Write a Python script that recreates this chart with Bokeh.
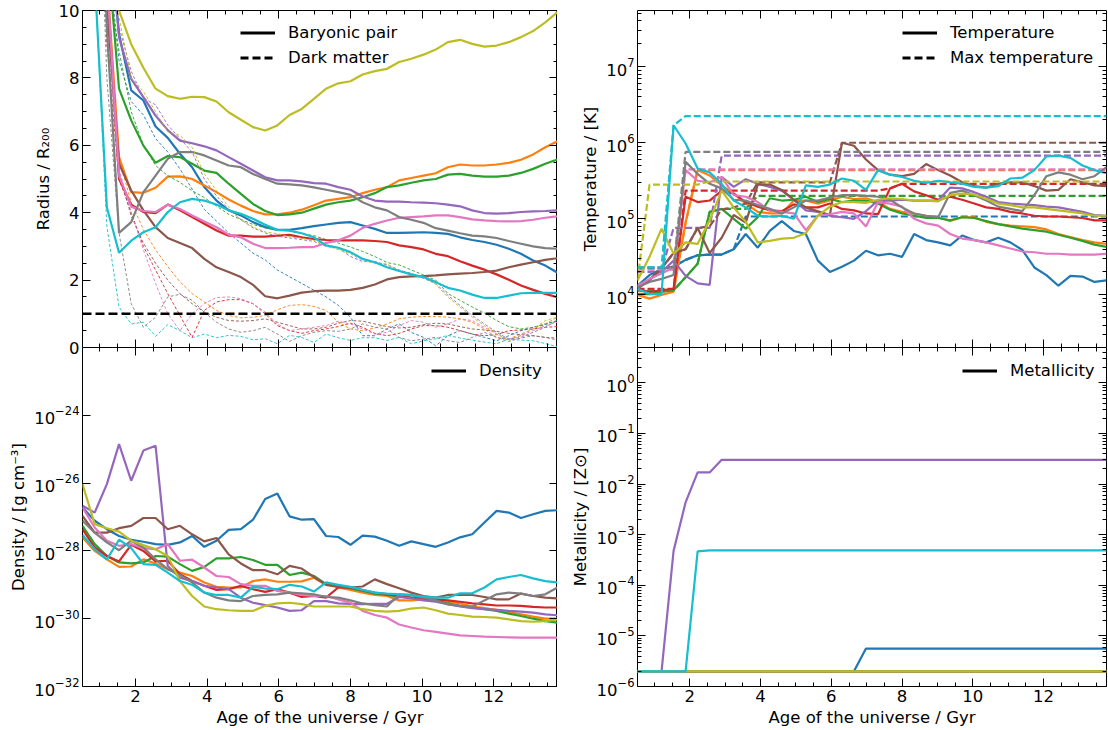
from bokeh.plotting import figure
from bokeh.models import (Range1d, LinearAxis, LogAxis, SingleIntervalTicker, FixedTicker,
                          LogTickFormatter, Legend, LegendItem, Span)
from bokeh.layouts import column, row
from bokeh.embed import file_html
from bokeh.resources import INLINE

# ---------------------------------------------------------------- data
TIME_GYR = [0.52, 0.86, 1.20, 1.54, 1.88, 2.22, 2.56, 2.90, 3.24, 3.58,
            3.92, 4.26, 4.60, 4.94, 5.28, 5.62, 5.96, 6.30, 6.64, 6.98,
            7.32, 7.66, 8.00, 8.34, 8.68, 9.02, 9.36, 9.70, 10.04, 10.38,
            10.72, 11.06, 11.40, 11.74, 12.08, 12.42, 12.76, 13.10, 13.44, 13.78]

SERIES_COLORS = ["#1f77b4", "#ff7f0e", "#2ca02c", "#d62728", "#9467bd",
                 "#8c564b", "#e377c2", "#7f7f7f", "#bcbd22", "#17becf"]

# Radius of baryonic pair / R200
RAD_BAR_BLUE = [40, 22, 13, 9.3, 7.63, 7.33, 6.56, 6.22, 5.75, 5.35,
                4.76, 4.36, 4.07, 3.92, 3.72, 3.57, 3.49, 3.49, 3.54, 3.6,
                3.65, 3.7, 3.72, 3.62, 3.52, 3.4, 3.4, 3.41, 3.42, 3.4,
                3.37, 3.27, 3.19, 3.13, 3.05, 2.93, 2.78, 2.58, 2.43, 2.22]
RAD_BAR_ORANGE = [40, 20, 11, 5.65, 4.61, 4.59, 4.74, 5.07, 5.08, 5.0,
                  4.81, 4.61, 4.39, 4.21, 4.05, 3.95, 3.95, 4.0, 4.09, 4.22,
                  4.36, 4.41, 4.46, 4.58, 4.68, 4.76, 4.96, 5.03, 5.1, 5.17,
                  5.35, 5.43, 5.4, 5.4, 5.43, 5.48, 5.57, 5.73, 5.94, 6.12]
RAD_BAR_GREEN = [40, 16, 12, 7.68, 6.74, 5.99, 5.48, 5.68, 5.65, 5.45,
                 5.25, 5.18, 4.86, 4.56, 4.26, 4.05, 3.93, 3.95, 4.0, 4.12,
                 4.24, 4.31, 4.36, 4.46, 4.58, 4.76, 4.81, 4.89, 4.96, 5.0,
                 5.13, 5.15, 5.1, 5.07, 5.07, 5.1, 5.18, 5.3, 5.45, 5.58]
RAD_BAR_RED = [40, 18, 10.8, 5.0, 4.24, 4.02, 3.99, 4.24, 4.07, 3.87,
               3.67, 3.47, 3.32, 3.32, 3.29, 3.29, 3.32, 3.34, 3.27, 3.22,
               3.19, 3.18, 3.18, 3.18, 3.16, 3.13, 3.03, 2.98, 2.91, 2.78,
               2.71, 2.56, 2.43, 2.31, 2.17, 2.01, 1.84, 1.71, 1.59, 1.49]
RAD_BAR_PURPLE = [40, 22, 13.5, 9.2, 7.97, 7.43, 6.88, 6.45, 6.14, 6.06,
                  5.97, 5.85, 5.65, 5.45, 5.25, 5.05, 4.96, 4.96, 4.93, 4.88,
                  4.86, 4.76, 4.68, 4.48, 4.36, 4.33, 4.33, 4.31, 4.3, 4.28,
                  4.24, 4.19, 4.07, 3.99, 3.97, 3.99, 4.02, 4.04, 4.05, 4.07]
RAD_BAR_BROWN = [40, 17, 10.2, 5.45, 4.66, 4.07, 3.57, 3.25, 3.1, 2.95,
                 2.63, 2.38, 2.24, 2.09, 1.86, 1.52, 1.46, 1.54, 1.63, 1.67,
                 1.69, 1.69, 1.71, 1.77, 1.87, 2.02, 2.09, 2.11, 2.12, 2.14,
                 2.17, 2.19, 2.21, 2.24, 2.28, 2.38, 2.46, 2.53, 2.6, 2.65]
RAD_BAR_PINK = [40, 18, 11, 5.1, 4.18, 4.05, 4.02, 4.24, 4.11, 3.92,
                3.74, 3.57, 3.35, 3.27, 3.08, 2.95, 2.95, 2.96, 2.98, 2.98,
                3.1, 3.18, 3.32, 3.55, 3.67, 3.77, 3.85, 3.87, 3.89, 3.92,
                3.92, 3.87, 3.8, 3.77, 3.75, 3.74, 3.75, 3.79, 3.85, 3.89]
RAD_BAR_GRAY = [40, 20, 9.5, 3.4, 3.72, 4.61, 5.1, 5.6, 5.8, 5.8,
                5.7, 5.55, 5.4, 5.35, 5.15, 5.0, 4.86, 4.84, 4.81, 4.75,
                4.68, 4.61, 4.53, 4.31, 4.16, 4.07, 3.87, 3.79, 3.7, 3.54,
                3.47, 3.39, 3.32, 3.3, 3.25, 3.16, 3.08, 3.0, 2.95, 2.93]
RAD_BAR_OLIVE = [40, 16, 11.2, 10.0, 9.0, 8.3, 7.68, 7.46, 7.38, 7.44,
                 7.43, 7.3, 6.98, 6.76, 6.54, 6.44, 6.59, 6.9, 7.08, 7.38,
                 7.68, 7.84, 7.9, 8.1, 8.2, 8.27, 8.47, 8.57, 8.69, 8.84,
                 9.06, 9.13, 9.01, 8.93, 8.96, 9.06, 9.21, 9.39, 9.65, 9.95]
RAD_BAR_CYAN = [40, 11, 4.16, 2.81, 3.17, 3.42, 3.57, 4.02, 4.31, 4.41,
                4.36, 4.24, 4.07, 3.97, 3.82, 3.64, 3.49, 3.47, 3.39, 3.27,
                3.03, 2.96, 2.83, 2.63, 2.53, 2.38, 2.27, 2.17, 2.09, 1.94,
                1.77, 1.69, 1.57, 1.47, 1.47, 1.54, 1.61, 1.62, 1.62, 1.62]

# Radius of dark matter / R200
RAD_DM_BLUE = [40, 20, 12, 8.5, 7.3, 6.9, 6.2, 5.8, 5.3, 4.7,
               4.1, 3.75, 3.4, 3.1, 2.8, 2.6, 2.3, 2.1, 1.9, 1.7,
               1.5, 1.25, 0.9, 0.35, 0.35, 0.55, 0.7, 0.45, 0.3, 0.05,
               0.35, 0.5, 0.4, 0.3, 0.2, 0.35, 0.5, 0.6, 0.7, 0.8]
RAD_DM_ORANGE = [40, 18, 10, 5.6, 4.3, 3.5, 2.9, 2.4, 1.95, 1.6,
                 1.35, 1.1, 0.95, 0.88, 0.9, 0.95, 1.12, 1.25, 1.27, 1.22,
                 1.1, 0.75, 0.55, 0.5, 0.58, 0.7, 0.85, 0.9, 0.92, 0.92,
                 0.9, 0.85, 0.75, 0.55, 0.3, 0.25, 0.4, 0.55, 0.7, 0.9]
RAD_DM_GREEN = [40, 18, 11, 8.8, 7.0, 6.0, 5.4, 5.1, 4.9, 4.65,
                4.45, 4.2, 3.95, 3.8, 3.65, 3.55, 3.5, 3.45, 3.38, 3.32,
                3.2, 3.1, 2.98, 2.85, 2.7, 2.52, 2.45, 2.3, 2.15, 2.0,
                1.6, 1.4, 1.2, 1.02, 0.8, 0.62, 0.55, 0.6, 0.68, 0.8]
RAD_DM_RED = [40, 18, 9, 5.0, 4.0, 3.0, 2.3, 1.6, 0.95, 0.3,
              1.1, 1.35, 1.42, 1.42, 1.3, 1.0, 0.65, 0.5, 0.42, 0.5,
              0.55, 0.62, 0.72, 0.6, 0.42, 0.35, 0.42, 0.55, 0.65, 0.65,
              0.6, 0.5, 0.4, 0.35, 0.38, 0.5, 0.52, 0.55, 0.6, 0.62]
RAD_DM_PURPLE = [40, 20, 12, 9.5, 8.2, 7.4, 7.2, 6.6, 6.2, 5.8,
                 5.0, 4.5, 4.1, 3.8, 3.55, 3.4, 3.3, 3.25, 3.2, 3.15,
                 3.0, 2.95, 2.7, 2.55, 2.55, 2.45, 2.3, 2.2, 2.05, 1.9,
                 1.55, 1.25, 0.95, 0.7, 0.45, 0.25, 0.3, 0.45, 0.6, 0.8]
RAD_DM_BROWN = [40, 18, 10, 5.2, 3.9, 3.1, 2.5, 2.0, 1.6, 1.3,
                1.05, 0.9, 0.8, 0.78, 0.8, 0.85, 0.75, 0.65, 0.55, 0.55,
                0.6, 0.72, 0.8, 0.78, 0.7, 0.62, 0.58, 0.6, 0.68, 0.72,
                0.7, 0.62, 0.55, 0.52, 0.48, 0.42, 0.38, 0.35, 0.3, 0.28]
RAD_DM_PINK = [40, 18, 9.5, 5.3, 4.0, 2.9, 1.9, 1.0, 0.5, 1.0,
               1.3, 1.48, 1.5, 1.45, 1.3, 1.05, 0.7, 0.5, 0.55, 0.6,
               0.65, 0.78, 0.7, 0.55, 0.4, 0.45, 0.65, 0.8, 0.75, 0.6,
               0.7, 0.85, 0.8, 0.6, 0.4, 0.25, 0.35, 0.5, 0.65, 0.75]
RAD_DM_GRAY = [40, 18, 8, 3.4, 1.3, 0.6, 0.9, 1.5, 1.58, 1.4,
               1.05, 0.75, 0.55, 0.45, 0.5, 0.6, 0.4, 0.18, 0.35, 0.45,
               0.5, 0.48, 0.55, 0.7, 0.6, 0.55, 0.3, 0.2, 0.25, 0.3,
               0.2, 0.15, 0.3, 0.45, 0.3, 0.18, 0.28, 0.35, 0.3, 0.22]
RAD_DM_OLIVE = [40, 20, 12, 9.8, 8.0, 7.6, 7.0, 6.4, 6.3, 5.94,
                5.15, 4.66, 4.17, 3.78, 3.58, 3.43, 3.38, 3.28, 3.25, 3.18,
                3.03, 2.9, 2.78, 2.58, 2.5, 2.48, 2.28, 2.15, 2.08, 1.88,
                1.49, 1.2, 0.9, 0.65, 0.4, 0.2, 0.36, 0.55, 0.8, 0.9]
RAD_DM_CYAN = [40, 11, 3.6, 1.2, 0.7, 0.75, 0.33, 0.68, 0.5, 0.29,
               0.4, 0.29, 0.36, 0.33, 0.23, 0.26, 0.11, 0.36, 0.3, 0.15,
               0.4, 0.29, 0.21, 0.29, 0.29, 0.21, 0.3, 0.11, 0.2, 0.26,
               0.36, 0.28, 0.22, 0.16, 0.11, 0.25, 0.22, 0.2, 0.12, 0.02]

# log10 density [g cm^-3]
LOG_DENS_BLUE = [-26.72, -27.11, -27.36, -27.56, -27.67, -27.73, -27.8, -27.82, -27.75, -27.56,
                 -27.88, -27.7, -27.38, -27.36, -27.08, -26.47, -26.31, -26.98, -27.08, -27.06,
                 -27.56, -27.59, -27.82, -27.55, -27.58, -27.7, -27.85, -27.72, -27.8, -27.88,
                 -27.75, -27.6, -27.51, -27.16, -26.82, -26.87, -27.03, -26.92, -26.82, -26.8]
LOG_DENS_ORANGE = [-27.6, -28.0, -28.25, -28.47, -28.46, -28.25, -28.37, -28.54, -28.64, -28.74,
                   -28.93, -29.06, -29.08, -29.08, -28.89, -28.84, -28.91, -28.91, -28.9, -28.79,
                   -29.0, -29.08, -29.15, -29.23, -29.3, -29.33, -29.46, -29.46, -29.43, -29.46,
                   -29.5, -29.55, -29.64, -29.69, -29.74, -29.8, -29.87, -29.94, -30.0, -30.0]
LOG_DENS_GREEN = [-27.26, -27.8, -28.15, -28.34, -28.37, -28.34, -28.15, -28.17, -28.39, -28.59,
                  -28.47, -28.22, -28.22, -28.18, -28.27, -28.41, -28.41, -28.71, -28.64, -28.74,
                  -28.98, -29.05, -29.11, -29.18, -29.26, -29.3, -29.35, -29.38, -29.4, -29.46,
                  -29.55, -29.62, -29.67, -29.72, -29.77, -29.85, -29.92, -30.0, -30.07, -30.12]
LOG_DENS_RED = [-27.36, -27.9, -28.15, -28.31, -27.82, -28.0, -28.31, -28.29, -28.69, -28.89,
                -29.03, -29.15, -29.13, -29.03, -29.13, -29.21, -29.13, -29.23, -29.36, -29.33,
                -29.38, -29.08, -29.08, -29.16, -29.23, -29.28, -29.33, -29.38, -29.41, -29.43,
                -29.46, -29.5, -29.55, -29.58, -29.61, -29.61, -29.62, -29.65, -29.67, -29.67]
LOG_DENS_PURPLE = [-26.67, -26.87, -26.03, -24.85, -25.93, -25.04, -24.9, -28.45, -28.79, -28.89,
                   -29.03, -29.08, -29.13, -29.38, -29.53, -29.6, -29.67, -29.77, -29.75, -29.48,
                   -29.48, -29.55, -29.56, -29.57, -29.56, -29.56, -29.36, -29.4, -29.46, -29.5,
                   -29.57, -29.64, -29.69, -29.72, -29.74, -29.77, -29.79, -29.82, -29.87, -29.9]
LOG_DENS_BROWN = [-26.97, -27.46, -27.46, -27.33, -27.26, -27.03, -27.03, -27.36, -27.26, -27.51,
                  -27.72, -27.62, -28.1, -28.37, -28.57, -28.57, -28.69, -28.44, -28.52, -28.77,
                  -29.0, -29.05, -29.08, -29.05, -28.84, -28.98, -29.1, -29.23, -29.33, -29.38,
                  -29.3, -29.3, -29.3, -29.36, -29.43, -29.43, -29.26, -29.33, -29.38, -29.4]
LOG_DENS_PINK = [-26.72, -27.31, -27.7, -27.85, -27.8, -27.92, -27.95, -27.8, -28.29, -28.26,
                 -28.49, -28.74, -28.77, -28.98, -29.03, -29.03, -29.18, -29.23, -29.3, -29.33,
                 -29.33, -29.43, -29.53, -29.77, -29.89, -29.97, -30.17, -30.26, -30.34, -30.39,
                 -30.44, -30.49, -30.51, -30.53, -30.54, -30.55, -30.56, -30.56, -30.56, -30.56]
LOG_DENS_GRAY = [-27.11, -27.46, -27.75, -27.98, -27.7, -27.9, -28.25, -28.54, -28.71, -28.93,
                 -29.23, -29.38, -29.46, -29.48, -29.33, -29.3, -29.28, -29.23, -29.25, -29.28,
                 -29.36, -29.38, -29.46, -29.55, -29.6, -29.64, -29.28, -29.3, -29.38, -29.46,
                 -29.58, -29.62, -29.65, -29.46, -29.28, -29.23, -29.26, -29.33, -29.28, -29.08]
LOG_DENS_OLIVE = [-26.03, -27.21, -27.33, -27.43, -27.7, -27.83, -27.95, -28.15, -28.89, -29.33,
                  -29.64, -29.72, -29.75, -29.77, -29.77, -29.62, -29.55, -29.53, -29.57, -29.64,
                  -29.64, -29.64, -29.64, -29.72, -29.77, -29.79, -29.77, -29.7, -29.67, -29.75,
                  -29.85, -29.89, -29.94, -29.95, -29.97, -30.02, -30.07, -30.09, -30.07, -30.02]
LOG_DENS_CYAN = [-27.53, -27.95, -28.25, -27.67, -27.92, -28.39, -28.41, -28.64, -28.89, -29.0,
                 -29.23, -29.3, -29.3, -29.38, -29.06, -29.11, -29.13, -29.0, -29.05, -29.2,
                 -28.93, -29.0, -29.06, -29.15, -29.23, -29.26, -29.28, -29.31, -29.35, -29.38,
                 -29.38, -29.25, -29.25, -29.08, -28.84, -28.77, -28.71, -28.81, -28.89, -28.93]

# log10 temperature [K]
LOG_TEMP_BLUE = [4.12, 4.26, 4.34, 4.37, 4.46, 4.52, 4.53, 4.53, 4.6, 4.8,
                 4.62, 4.84, 4.97, 4.84, 4.8, 4.45, 4.3, 4.37, 4.45, 4.58,
                 4.52, 4.54, 4.5, 4.8, 4.72, 4.69, 4.65, 4.78, 4.72, 4.69,
                 4.75, 4.69, 4.59, 4.36, 4.26, 4.12, 4.25, 4.24, 4.17, 4.19]
LOG_TEMP_ORANGE = [4.0, 3.95, 4.0, 4.04, 4.95, 5.64, 5.57, 5.44, 5.33, 5.2,
                   5.09, 5.07, 5.07, 5.24, 5.24, 5.2, 5.24, 5.29, 5.26, 5.27,
                   5.22, 5.13, 5.09, 5.07, 5.04, 5.02, 4.97, 5.02, 5.02, 4.96,
                   4.93, 4.91, 4.9, 4.89, 4.86, 4.8, 4.76, 4.72, 4.69, 4.67]
LOG_TEMP_GREEN = [4.01, 4.01, 4.04, 4.06, 4.23, 4.41, 5.09, 5.13, 5.0, 4.87,
                  5.02, 5.27, 5.24, 5.25, 5.29, 5.22, 5.26, 5.22, 5.24, 5.24,
                  5.2, 5.12, 5.07, 5.04, 5.01, 5.01, 4.98, 5.02, 5.01, 4.97,
                  4.93, 4.9, 4.87, 4.85, 4.83, 4.79, 4.75, 4.71, 4.66, 4.63]
LOG_TEMP_RED = [4.07, 4.04, 4.06, 4.08, 5.29, 5.22, 5.24, 5.37, 5.33, 5.22,
                5.16, 5.11, 5.1, 5.19, 5.15, 5.15, 5.2, 5.13, 5.11, 5.07,
                5.06, 5.4, 5.46, 5.36, 5.31, 5.25, 5.29, 5.25, 5.2, 5.15,
                5.13, 5.09, 5.07, 5.04, 5.03, 5.03, 5.02, 5.01, 4.98, 4.98]
LOG_TEMP_PURPLE = [4.1, 4.2, 4.3, 4.45, 4.25, 4.15, 4.13, 5.55, 5.42, 5.52,
                   5.46, 5.42, 5.37, 5.25, 5.11, 5.09, 5.04, 5.02, 5.0, 5.1,
                   5.24, 5.24, 5.25, 5.24, 5.24, 5.24, 5.41, 5.4, 5.35, 5.29,
                   5.22, 5.2, 5.19, 5.18, 5.16, 5.15, 5.12, 5.09, 5.05, 5.04]
LOG_TEMP_BROWN = [4.08, 4.2, 4.35, 4.55, 4.6, 4.88, 4.55, 4.75, 5.05, 4.95,
                  5.45, 5.45, 5.38, 5.25, 5.15, 5.1, 5.05, 6.0, 5.96, 5.78,
                  5.64, 5.58, 5.56, 5.59, 5.72, 5.64, 5.57, 5.48, 5.43, 5.41,
                  5.46, 5.48, 5.48, 5.43, 5.37, 5.38, 5.52, 5.48, 5.44, 5.43]
LOG_TEMP_PINK = [4.12, 4.21, 4.28, 4.36, 5.64, 5.5, 5.48, 5.55, 5.31, 5.29,
                 5.22, 5.11, 5.09, 5.07, 4.85, 5.04, 5.06, 5.09, 5.07, 4.9,
                 5.22, 5.2, 5.16, 5.0, 4.94, 4.91, 4.8, 4.74, 4.72, 4.69,
                 4.65, 4.61, 4.57, 4.56, 4.54, 4.54, 4.53, 4.53, 4.53, 4.54]
LOG_TEMP_GRAY = [4.1, 4.17, 4.21, 4.26, 5.75, 5.59, 5.46, 5.4, 5.25, 5.24,
                 5.18, 5.13, 5.07, 5.15, 5.24, 5.24, 5.28, 5.31, 5.31, 5.3,
                 5.29, 5.25, 5.15, 5.07, 5.04, 5.02, 5.34, 5.37, 5.31, 5.24,
                 5.16, 5.13, 5.1, 5.31, 5.56, 5.61, 5.58, 5.52, 5.56, 5.68]
LOG_TEMP_OLIVE = [4.19, 4.5, 4.87, 4.54, 4.69, 4.67, 4.98, 5.37, 5.15, 4.96,
                  4.69, 4.71, 4.74, 4.75, 4.81, 5.04, 5.16, 5.22, 5.22, 5.21,
                  5.25, 5.27, 5.26, 5.24, 5.24, 5.23, 5.31, 5.33, 5.32, 5.26,
                  5.2, 5.18, 5.15, 5.15, 5.13, 5.11, 5.09, 5.07, 5.04, 5.04]
LOG_TEMP_CYAN = [4.08, 4.01, 4.01, 6.23, 5.99, 5.66, 5.61, 5.46, 5.24, 5.15,
                 5.04, 5.03, 5.04, 5.0, 5.44, 5.42, 5.45, 5.53, 5.5, 5.38,
                 5.64, 5.58, 5.55, 5.5, 5.47, 5.5, 5.48, 5.46, 5.42, 5.41,
                 5.43, 5.53, 5.54, 5.64, 5.82, 5.83, 5.8, 5.7, 5.64, 5.6]

# log10 max temperature [K]
LOG_TMAX_BLUE = [4.35, 4.35, 4.35, 4.37, 4.46, 4.52, 4.53, 4.53, 4.6, 5.03,
                 5.03, 5.03, 5.03, 5.03, 5.03, 5.03, 5.03, 5.03, 5.03, 5.03,
                 5.03, 5.03, 5.03, 5.03, 5.03, 5.03, 5.03, 5.03, 5.03, 5.03,
                 5.03, 5.03, 5.03, 5.03, 5.03, 5.03, 5.03, 5.03, 5.03, 5.03]
LOG_TMAX_ORANGE = [4.05, 4.05, 4.05, 4.05, 4.95, 5.64, 5.64, 5.64, 5.64, 5.64,
                   5.64, 5.64, 5.64, 5.64, 5.64, 5.64, 5.64, 5.64, 5.64, 5.64,
                   5.64, 5.64, 5.64, 5.64, 5.64, 5.64, 5.64, 5.64, 5.64, 5.64,
                   5.64, 5.64, 5.64, 5.64, 5.64, 5.64, 5.64, 5.64, 5.64, 5.64]
LOG_TMAX_GREEN = [4.06, 4.06, 4.06, 4.06, 4.23, 4.41, 5.09, 5.13, 5.13, 5.13,
                  5.3, 5.3, 5.3, 5.3, 5.3, 5.3, 5.3, 5.3, 5.3, 5.3,
                  5.3, 5.3, 5.3, 5.3, 5.3, 5.3, 5.3, 5.3, 5.3, 5.3,
                  5.3, 5.3, 5.3, 5.3, 5.3, 5.3, 5.3, 5.3, 5.3, 5.3]
LOG_TMAX_RED = [4.08, 4.08, 4.08, 4.08, 5.37, 5.37, 5.37, 5.37, 5.37, 5.37,
                5.37, 5.37, 5.37, 5.37, 5.37, 5.37, 5.37, 5.37, 5.37, 5.37,
                5.37, 5.4, 5.46, 5.46, 5.46, 5.46, 5.46, 5.46, 5.46, 5.46,
                5.46, 5.46, 5.46, 5.46, 5.46, 5.46, 5.46, 5.46, 5.46, 5.46]
LOG_TMAX_PURPLE = [4.3, 4.3, 4.32, 4.88, 4.88, 4.88, 4.88, 5.83, 5.83, 5.83,
                   5.83, 5.83, 5.83, 5.83, 5.83, 5.83, 5.83, 5.83, 5.83, 5.83,
                   5.83, 5.83, 5.83, 5.83, 5.83, 5.83, 5.83, 5.83, 5.83, 5.83,
                   5.83, 5.83, 5.83, 5.83, 5.83, 5.83, 5.83, 5.83, 5.83, 5.83]
LOG_TMAX_BROWN = [4.1, 4.2, 4.35, 4.55, 4.6, 4.88, 4.9, 5.12, 5.15, 5.2,
                  5.48, 5.48, 5.48, 5.48, 5.48, 5.48, 5.48, 6.0, 6.0, 6.0,
                  6.0, 6.0, 6.0, 6.0, 6.0, 6.0, 6.0, 6.0, 6.0, 6.0,
                  6.0, 6.0, 6.0, 6.0, 6.0, 6.0, 6.0, 6.0, 6.0, 6.0]
LOG_TMAX_PINK = [4.33, 4.33, 4.33, 4.33, 5.65, 5.65, 5.65, 5.65, 5.65, 5.65,
                 5.65, 5.65, 5.65, 5.65, 5.65, 5.65, 5.65, 5.65, 5.65, 5.65,
                 5.65, 5.65, 5.65, 5.65, 5.65, 5.65, 5.65, 5.65, 5.65, 5.65,
                 5.65, 5.65, 5.65, 5.65, 5.65, 5.65, 5.65, 5.65, 5.65, 5.65]
LOG_TMAX_GRAY = [4.36, 4.36, 4.36, 4.36, 5.88, 5.88, 5.88, 5.88, 5.88, 5.88,
                 5.88, 5.88, 5.88, 5.88, 5.88, 5.88, 5.88, 5.88, 5.88, 5.88,
                 5.88, 5.88, 5.88, 5.88, 5.88, 5.88, 5.88, 5.88, 5.88, 5.88,
                 5.88, 5.88, 5.88, 5.88, 5.88, 5.88, 5.88, 5.88, 5.88, 5.88]
LOG_TMAX_OLIVE = [4.19, 5.45, 5.45, 5.45, 5.45, 5.45, 5.49, 5.49, 5.49, 5.49,
                  5.49, 5.49, 5.49, 5.49, 5.49, 5.49, 5.49, 5.49, 5.49, 5.49,
                  5.49, 5.49, 5.49, 5.49, 5.49, 5.49, 5.49, 5.49, 5.49, 5.49,
                  5.49, 5.49, 5.49, 5.49, 5.49, 5.49, 5.49, 5.49, 5.49, 5.49]
LOG_TMAX_CYAN = [4.36, 4.36, 4.36, 6.23, 6.35, 6.35, 6.35, 6.35, 6.35, 6.35,
                 6.35, 6.35, 6.35, 6.35, 6.35, 6.35, 6.35, 6.35, 6.35, 6.35,
                 6.35, 6.35, 6.35, 6.35, 6.35, 6.35, 6.35, 6.35, 6.35, 6.35,
                 6.35, 6.35, 6.35, 6.35, 6.35, 6.35, 6.35, 6.35, 6.35, 6.35]

# log10 metallicity [Z_sun]
LOG_MET_BLUE = [-5.7, -5.7, -5.7, -5.7, -5.7, -5.7, -5.7, -5.7, -5.7, -5.7,
                -5.7, -5.7, -5.7, -5.7, -5.7, -5.7, -5.7, -5.7, -5.7, -5.25,
                -5.25, -5.25, -5.25, -5.25, -5.25, -5.25, -5.25, -5.25, -5.25, -5.25,
                -5.25, -5.25, -5.25, -5.25, -5.25, -5.25, -5.25, -5.25, -5.25, -5.25]
LOG_MET_PURPLE = [-5.7, -5.7, -5.7, -3.32, -2.36, -1.77, -1.77, -1.52, -1.52, -1.52,
                  -1.52, -1.52, -1.52, -1.52, -1.52, -1.52, -1.52, -1.52, -1.52, -1.52,
                  -1.52, -1.52, -1.52, -1.52, -1.52, -1.52, -1.52, -1.52, -1.52, -1.52,
                  -1.52, -1.52, -1.52, -1.52, -1.52, -1.52, -1.52, -1.52, -1.52, -1.52]
LOG_MET_CYAN = [-5.7, -5.7, -5.7, -5.7, -5.7, -3.33, -3.31, -3.31, -3.31, -3.31,
                -3.31, -3.31, -3.31, -3.31, -3.31, -3.31, -3.31, -3.31, -3.31, -3.31,
                -3.31, -3.31, -3.31, -3.31, -3.31, -3.31, -3.31, -3.31, -3.31, -3.31,
                -3.31, -3.31, -3.31, -3.31, -3.31, -3.31, -3.31, -3.31, -3.31, -3.31]
LOG_MET_FLOOR = [-5.7, -5.7, -5.7, -5.7, -5.7, -5.7, -5.7, -5.7, -5.7, -5.7,
                 -5.7, -5.7, -5.7, -5.7, -5.7, -5.7, -5.7, -5.7, -5.7, -5.7,
                 -5.7, -5.7, -5.7, -5.7, -5.7, -5.7, -5.7, -5.7, -5.7, -5.7,
                 -5.7, -5.7, -5.7, -5.7, -5.7, -5.7, -5.7, -5.7, -5.7, -5.7]

RAD_BAR = [RAD_BAR_BLUE, RAD_BAR_ORANGE, RAD_BAR_GREEN, RAD_BAR_RED, RAD_BAR_PURPLE,
           RAD_BAR_BROWN, RAD_BAR_PINK, RAD_BAR_GRAY, RAD_BAR_OLIVE, RAD_BAR_CYAN]
RAD_DM = [RAD_DM_BLUE, RAD_DM_ORANGE, RAD_DM_GREEN, RAD_DM_RED, RAD_DM_PURPLE,
          RAD_DM_BROWN, RAD_DM_PINK, RAD_DM_GRAY, RAD_DM_OLIVE, RAD_DM_CYAN]
LOG_DENS = [LOG_DENS_BLUE, LOG_DENS_ORANGE, LOG_DENS_GREEN, LOG_DENS_RED, LOG_DENS_PURPLE,
            LOG_DENS_BROWN, LOG_DENS_PINK, LOG_DENS_GRAY, LOG_DENS_OLIVE, LOG_DENS_CYAN]
LOG_TEMP = [LOG_TEMP_BLUE, LOG_TEMP_ORANGE, LOG_TEMP_GREEN, LOG_TEMP_RED, LOG_TEMP_PURPLE,
            LOG_TEMP_BROWN, LOG_TEMP_PINK, LOG_TEMP_GRAY, LOG_TEMP_OLIVE, LOG_TEMP_CYAN]
LOG_TMAX = [LOG_TMAX_BLUE, LOG_TMAX_ORANGE, LOG_TMAX_GREEN, LOG_TMAX_RED, LOG_TMAX_PURPLE,
            LOG_TMAX_BROWN, LOG_TMAX_PINK, LOG_TMAX_GRAY, LOG_TMAX_OLIVE, LOG_TMAX_CYAN]
LOG_MET = [LOG_MET_BLUE, LOG_MET_FLOOR, LOG_MET_FLOOR, LOG_MET_FLOOR, LOG_MET_PURPLE,
           LOG_MET_FLOOR, LOG_MET_FLOOR, LOG_MET_FLOOR, LOG_MET_FLOOR, LOG_MET_CYAN]

for group in (RAD_BAR, RAD_DM, LOG_DENS, LOG_TEMP, LOG_TMAX, LOG_MET):
    for arr in group:
        assert len(arr) == len(TIME_GYR), len(arr)

# ---------------------------------------------------------------- styling
FONT = "DejaVu Sans"
FS = "16.5px"
X_LIMITS = (0.52, 13.78)


def pow10(vals):
    return [10.0 ** v for v in vals]


def log_minor(lo, hi):
    out = []
    for e in range(-40, 10):
        for m in range(2, 10):
            v = m * 10.0 ** e
            if lo < v < hi:
                out.append(v)
    return out


def style_axis(ax, show_labels):
    ax.major_tick_in = 8
    ax.major_tick_out = 0
    ax.minor_tick_in = 4
    ax.minor_tick_out = 0
    ax.major_tick_line_color = "black"
    ax.minor_tick_line_color = "black"
    ax.major_tick_line_width = 1
    ax.minor_tick_line_width = 1
    ax.axis_line_color = None
    if show_labels:
        ax.major_label_text_font = FONT
        ax.major_label_text_font_size = FS
        ax.major_label_text_color = "black"
        ax.major_label_standoff = 3
        ax.axis_label_text_font = FONT
        ax.axis_label_text_font_size = FS
        ax.axis_label_text_font_style = "normal"
        ax.axis_label_text_color = "black"
        ax.axis_label_standoff = 3
    else:
        ax.major_label_text_color = None
        ax.major_label_standoff = 0
        ax.axis_label = None


def make_panel(width, height, y_range, log, borders, yticker, ylabel, xlabel):
    p = figure(width=width, height=height,
               x_range=Range1d(*X_LIMITS), y_range=y_range,
               y_axis_type="log" if log else "linear",
               output_backend="svg", toolbar_location=None,
               min_border_left=borders[0], min_border_right=borders[1],
               min_border_top=borders[2], min_border_bottom=borders[3])
    p.xgrid.visible = False
    p.ygrid.visible = False
    p.outline_line_color = "black"
    p.outline_line_width = 1
    p.outline_line_alpha = 1
    p.background_fill_color = "white"
    p.border_fill_color = "white"

    xt = SingleIntervalTicker(interval=2, num_minor_ticks=4)
    xb = p.below[0]
    xb.ticker = xt
    style_axis(xb, xlabel is not None)
    if xlabel is not None:
        xb.axis_label = xlabel
    xa = LinearAxis(ticker=xt)
    style_axis(xa, False)
    p.add_layout(xa, "above")

    yl = p.left[0]
    yl.ticker = yticker
    if log:
        yl.formatter = LogTickFormatter()
    style_axis(yl, True)
    yl.axis_label = ylabel
    yr = LogAxis(ticker=yticker) if log else LinearAxis(ticker=yticker)
    style_axis(yr, False)
    p.add_layout(yr, "right")
    return p


def add_legend(p, entries, loc, ydata):
    items = []
    for label, dash in entries:
        r = p.line(x=TIME_GYR, y=ydata, line_color="black", line_width=3,
                   line_dash=dash, visible=False)
        items.append(LegendItem(label=label, renderers=[r]))
    leg = Legend(items=items, location=loc, border_line_color=None,
                 background_fill_alpha=0, padding=0, margin=0, spacing=0,
                 glyph_width=35, glyph_height=25, label_height=25, label_standoff=13,
                 inactive_fill_alpha=0,
                 label_text_font=FONT, label_text_font_size=FS, label_text_color="black")
    p.add_layout(leg)


LEFT_W = 557
RIGHT_W = 551
OVERLAP = 9
TOP_H = 347 + OVERLAP
BOT_H = 383

# ---------------------------------------------------------------- radius panel
p_rad = make_panel(LEFT_W, TOP_H, Range1d(0, 10), False, (82, 0, 10, OVERLAP),
                   SingleIntervalTicker(interval=2, num_minor_ticks=4),
                   "Radius / R\u2082\u2080\u2080", None)
for col, rb, rd in zip(SERIES_COLORS, RAD_BAR, RAD_DM):
    p_rad.line(TIME_GYR, rb, line_color=col, line_width=2.2)
    p_rad.line(TIME_GYR, rd, line_color=col, line_width=0.9, line_dash="3 2")
p_rad.add_layout(Span(location=1, dimension="width", line_color="black",
                      line_width=2.5, line_dash="9 4"))
add_legend(p_rad, [("Baryonic pair", "solid"), ("Dark matter", "8 4")], (158, 277), RAD_BAR_BLUE)

# ---------------------------------------------------------------- density panel
dens_ticker = FixedTicker(ticks=[1e-32, 1e-30, 1e-28, 1e-26, 1e-24], minor_ticks=[])
p_den = make_panel(LEFT_W, BOT_H, Range1d(1e-32, 1e-22), True, (82, 0, 0, 44),
                   dens_ticker, "Density / [g cm\u207b\u00b3]",
                   "Age of the universe / Gyr")
p_den.border_fill_alpha = 0
for col, ld in zip(SERIES_COLORS, LOG_DENS):
    p_den.line(TIME_GYR, pow10(ld), line_color=col, line_width=2.2)
add_legend(p_den, [("Density", "solid")], (349, 303), pow10(LOG_DENS_BLUE))

# ---------------------------------------------------------------- temperature panel
T_LO, T_HI = 2.03e3, 5.48e7
temp_ticker = FixedTicker(ticks=[1e4, 1e5, 1e6, 1e7], minor_ticks=log_minor(T_LO, T_HI))
p_tem = make_panel(RIGHT_W, TOP_H, Range1d(T_LO, T_HI), True, (80, 2, 10, OVERLAP),
                   temp_ticker, "Temperature / [K]", None)
for col, lt, lm in zip(SERIES_COLORS, LOG_TEMP, LOG_TMAX):
    p_tem.line(TIME_GYR, pow10(lt), line_color=col, line_width=2.2)
    p_tem.line(TIME_GYR, pow10(lm), line_color=col, line_width=2.2, line_dash="7 3")
add_legend(p_tem, [("Temperature", "solid"), ("Max temperature", "8 4")], (265, 277),
           pow10(LOG_TEMP_BLUE))

# ---------------------------------------------------------------- metallicity panel
Z_LO, Z_HI = 1e-6, 5.0
met_ticker = FixedTicker(ticks=[1e-6, 1e-5, 1e-4, 1e-3, 1e-2, 1e-1, 1e0],
                         minor_ticks=log_minor(Z_LO, Z_HI))
p_met = make_panel(RIGHT_W, BOT_H, Range1d(Z_LO, Z_HI), True, (80, 2, 0, 44),
                   met_ticker, "Metallicity / [Z\u2299]",
                   "Age of the universe / Gyr")
p_met.border_fill_alpha = 0
for col, lz in zip(SERIES_COLORS, LOG_MET):
    p_met.line(TIME_GYR, pow10(lz), line_color=col, line_width=2.2)
add_legend(p_met, [("Metallicity", "solid")], (325, 303), pow10(LOG_MET_FLOOR))

bottom_row = row(p_den, p_met, margin=(-OVERLAP, 0, 0, 0))
layout = column(row(p_rad, p_tem), bottom_row)
with open("out.html", "w", encoding="utf-8") as f:
    f.write(file_html(layout, INLINE, title="Pair evolution"))
